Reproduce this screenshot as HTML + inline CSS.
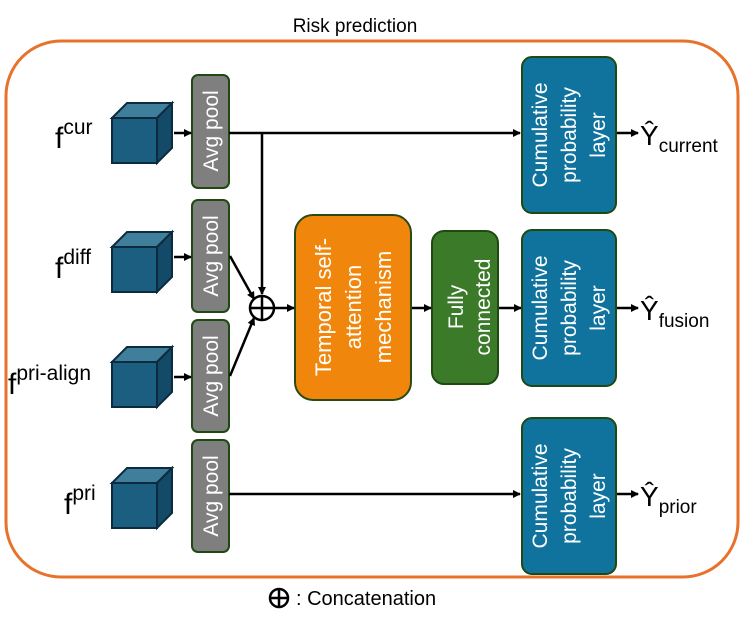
<!DOCTYPE html>
<html><head><style>
body{margin:0;background:#fff;}
svg text{font-family:"Liberation Sans",sans-serif;}
</style></head><body>
<svg width="745" height="630" viewBox="0 0 745 630" xmlns="http://www.w3.org/2000/svg">
<defs>
<marker id="a" markerWidth="8" markerHeight="8" refX="7" refY="4" orient="auto" markerUnits="userSpaceOnUse"><path d="M0,0 L8,4 L0,8 z" fill="#000"/></marker>
<g id="cube">
<path d="M0,15 L15,0 L60,0 L45,15 z" fill="#3f7f9c" stroke="#0d2b3e" stroke-width="2"/>
<path d="M45,15 L60,0 L60,45 L45,60 z" fill="#134a68" stroke="#0d2b3e" stroke-width="2"/>
<rect x="0" y="15" width="45" height="45" fill="#1b5e80" stroke="#0d2b3e" stroke-width="2"/>
</g>
</defs>
<text x="355" y="32" font-size="19" text-anchor="middle">Risk prediction</text>
<rect x="6" y="41" width="732" height="536" rx="55" fill="none" stroke="#e8722c" stroke-width="3"/>

<use href="#cube" x="112" y="103"/>
<use href="#cube" x="112" y="232"/>
<use href="#cube" x="112" y="347"/>
<use href="#cube" x="112" y="468"/>

<g font-size="30">
<text x="55" y="148">f<tspan font-size="21" dy="-14">cur</tspan></text>
<text x="55" y="278">f<tspan font-size="21" dy="-14">diff</tspan></text>
<text x="8" y="394">f<tspan font-size="21" dy="-14">pri-align</tspan></text>
<text x="64" y="514">f<tspan font-size="21" dy="-14">pri</tspan></text>
</g>

<g stroke="#1e4a12" stroke-width="2" fill="#7f7f7f">
<rect x="192" y="75" width="37" height="113" rx="6"/>
<rect x="192" y="200" width="37" height="112" rx="6"/>
<rect x="192" y="320" width="37" height="112" rx="6"/>
<rect x="192" y="440" width="37" height="112" rx="6"/>
</g>
<g fill="#fff" font-size="21" text-anchor="middle">
<text transform="translate(218,131) rotate(-90)">Avg pool</text>
<text transform="translate(218,256) rotate(-90)">Avg pool</text>
<text transform="translate(218,376) rotate(-90)">Avg pool</text>
<text transform="translate(218,496) rotate(-90)">Avg pool</text>
</g>

<g stroke="#000" stroke-width="2.5" fill="none">
<line x1="174" y1="133" x2="191" y2="133" marker-end="url(#a)"/>
<line x1="174" y1="257" x2="191" y2="257" marker-end="url(#a)"/>
<line x1="174" y1="377" x2="191" y2="377" marker-end="url(#a)"/>
<line x1="229" y1="133" x2="520" y2="133" marker-end="url(#a)"/>
<line x1="262" y1="133" x2="262" y2="294" marker-end="url(#a)"/>
<line x1="230" y1="256" x2="254" y2="299" marker-end="url(#a)"/>
<line x1="230" y1="376" x2="254" y2="318" marker-end="url(#a)"/>
<circle cx="262" cy="308" r="12"/>
<line x1="250" y1="308" x2="274" y2="308"/>
<line x1="262" y1="296" x2="262" y2="320"/>
<line x1="274" y1="308" x2="294" y2="308" marker-end="url(#a)"/>
<line x1="411" y1="308" x2="431" y2="308" marker-end="url(#a)"/>
<line x1="498" y1="308" x2="521" y2="308" marker-end="url(#a)"/>
<line x1="229" y1="494" x2="520" y2="494" marker-end="url(#a)"/>
<line x1="616" y1="133" x2="638" y2="133" marker-end="url(#a)"/>
<line x1="616" y1="308" x2="638" y2="308" marker-end="url(#a)"/>
<line x1="616" y1="494" x2="638" y2="494" marker-end="url(#a)"/>
</g>

<rect x="295" y="215" width="116" height="185" rx="18" fill="#f0860c" stroke="#2a4a14" stroke-width="2"/>
<g fill="#fff" font-size="22" text-anchor="middle">
<text transform="translate(331,307) rotate(-90)">Temporal self-</text>
<text transform="translate(361,307) rotate(-90)">attention</text>
<text transform="translate(391,307) rotate(-90)">mechanism</text>
</g>
<rect x="432" y="231" width="66" height="153" rx="12" fill="#3a7a28" stroke="#1e4a12" stroke-width="2"/>
<g fill="#fff" font-size="21" text-anchor="middle">
<text transform="translate(463,307) rotate(-90)">Fully</text>
<text transform="translate(490,307) rotate(-90)">connected</text>
</g>

<g stroke="#1e4a12" stroke-width="2" fill="#10739e">
<rect x="522" y="57" width="94" height="156" rx="10"/>
<rect x="522" y="230" width="94" height="156" rx="10"/>
<rect x="522" y="418" width="94" height="156" rx="10"/>
</g>
<g fill="#fff" font-size="21" text-anchor="middle">
<text transform="translate(547,135) rotate(-90)">Cumulative</text>
<text transform="translate(576,135) rotate(-90)">probability</text>
<text transform="translate(605,135) rotate(-90)">layer</text>
<text transform="translate(547,308) rotate(-90)">Cumulative</text>
<text transform="translate(576,308) rotate(-90)">probability</text>
<text transform="translate(605,308) rotate(-90)">layer</text>
<text transform="translate(547,496) rotate(-90)">Cumulative</text>
<text transform="translate(576,496) rotate(-90)">probability</text>
<text transform="translate(605,496) rotate(-90)">layer</text>
</g>

<g font-size="28">
<text x="640" y="145">Ŷ<tspan font-size="19" dy="7">current</tspan></text>
<text x="640" y="320">Ŷ<tspan font-size="19" dy="7">fusion</tspan></text>
<text x="640" y="506">Ŷ<tspan font-size="19" dy="7">prior</tspan></text>
</g>

<circle cx="279" cy="598" r="9" fill="none" stroke="#000" stroke-width="2.5"/>
<line x1="270" y1="598" x2="288" y2="598" stroke="#000" stroke-width="2.5"/>
<line x1="279" y1="589" x2="279" y2="607" stroke="#000" stroke-width="2.5"/>
<text x="296" y="605" font-size="20">: Concatenation</text>
</svg>
</body></html>
